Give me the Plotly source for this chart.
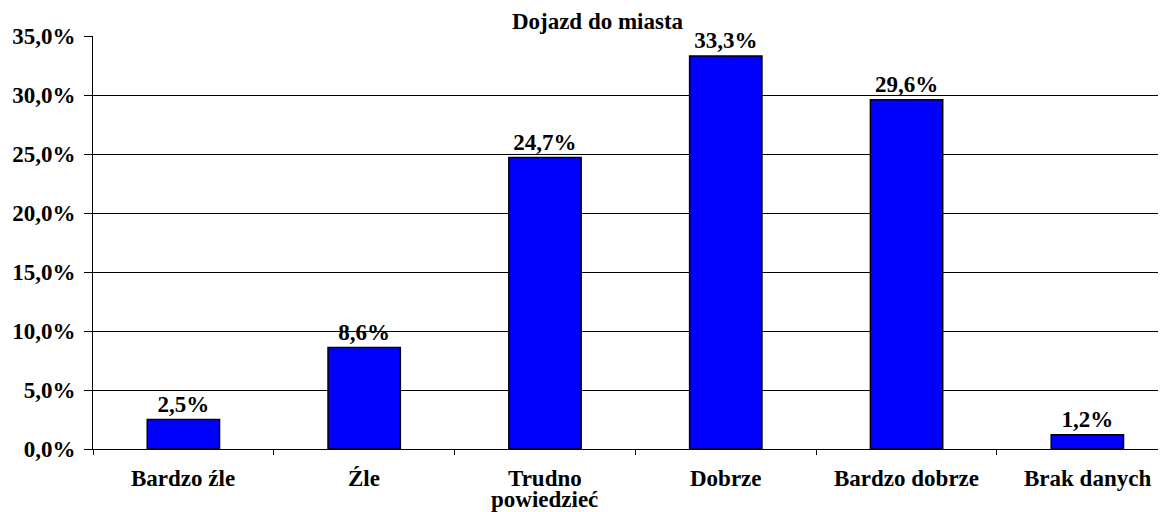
import plotly.graph_objects as go

categories = ["Bardzo źle", "Źle", "Trudno\npowiedzieć", "Dobrze", "Bardzo dobrze", "Brak danych"]
values = [2.5, 8.6, 24.7, 33.3, 29.6, 1.2]
title_text = "Dojazd do miasta"
y_ticks = [0, 5, 10, 15, 20, 25, 30, 35]
y_ticktext = [f"{v:.1f}%".replace(".", ",") for v in y_ticks]

FONT = "'Liberation Serif', 'Times New Roman', Times, serif"
FS = 23
W, H = 1158, 512

cat_keys = [c.replace("\n", " ") for c in categories]

fig = go.Figure()
fig.add_trace(go.Bar(
    x=cat_keys, y=values, width=0.4,
    marker=dict(color="#0000FF", line=dict(color="#000000", width=1.5)),
    texttemplate="%{y:.1f}%", textposition="outside",
    textfont=dict(family=FONT, size=FS, color="#000", weight="bold"),
    constraintext="none", cliponaxis=False,
))

annotations = []
for key, label in zip(cat_keys, categories):
    for i, line in enumerate(label.split("\n")):
        annotations.append(dict(
            x=key, xref="x", y=0, yref="y", yanchor="middle", xanchor="center",
            yshift=-29 - 21 * i, showarrow=False, text=line,
            font=dict(family=FONT, size=FS, color="#000", weight="bold"),
        ))

fig.update_layout(
    width=W, height=H,
    margin=dict(l=85, r=0, t=28, b=71, pad=0),
    paper_bgcolor="white", plot_bgcolor="white",
    separators=",.",
    showlegend=False,
    title=dict(text=title_text, x=589.5 / W, xref="container", xanchor="center",
               y=1 - 13 / H, yref="container", yanchor="middle",
               font=dict(family=FONT, size=FS, color="#000", weight="bold")),
    annotations=annotations,
    xaxis=dict(type="category", range=[-0.5, 5.435], showticklabels=False,
               ticks="outside", tickson="boundaries", ticklen=5, tickcolor="#000",
               showline=True, linecolor="#000", linewidth=1, showgrid=False,
               fixedrange=True),
    yaxis=dict(range=[0, 35], tickvals=y_ticks, ticktext=y_ticktext,
               ticks="outside", ticklen=8, tickcolor="#000", ticklabelstandoff=4,
               showline=True, linecolor="#000", linewidth=1,
               showgrid=True, gridcolor="#000", gridwidth=1, zeroline=False,
               tickfont=dict(family=FONT, size=FS, color="#000", weight="bold")),
)

fig.write_html("out.html")
